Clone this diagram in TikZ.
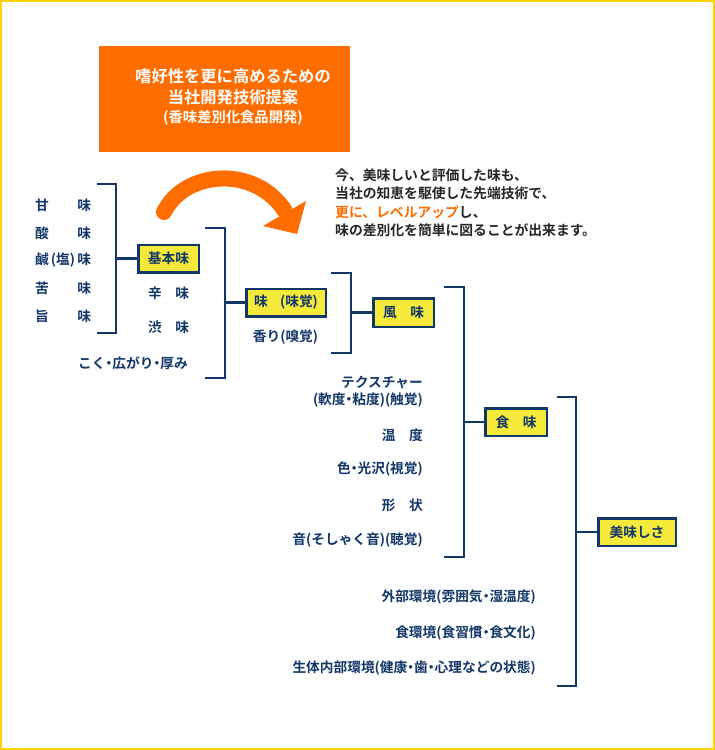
\documentclass[tikz,border=0pt]{standalone}
\usepackage{fontspec}
\setmainfont{Noto Sans CJK JP}[BoldFont={Noto Sans CJK JP Bold}]
\definecolor{navy}{RGB}{18,55,105}
\definecolor{boxyellow}{RGB}{245,234,58}
\definecolor{orng}{RGB}{255,108,0}
\definecolor{frameyellow}{RGB}{255,212,0}
\newcommand\nkdot{\makebox[0.5em]{・}}
\tikzset{
  lbl/.style={font=\fontsize{13.7}{16}\selectfont\bfseries, text=navy, inner sep=0pt},
  jbox/.style={draw=navy, line width=2.5pt, fill=boxyellow, inner sep=0pt, font=\fontsize{13.7}{16}\selectfont\bfseries, text=navy},
  brk/.style={draw=navy, line width=2.5pt},
  wlbl/.style={text=white, inner sep=0pt},
  intro/.style={font=\fontsize{13.8}{16}\selectfont\bfseries, text=black!85, inner sep=0pt, anchor=west}
}
\begin{document}
\begin{tikzpicture}[x=1pt,y=-1pt]
\useasboundingbox (0,0) rectangle (715,750);
\draw[frameyellow, line width=2pt] (1,1) rectangle (713.5,749);

% orange title box
\node[fill=orng, minimum width=251pt, minimum height=106pt, inner sep=0pt] (title) at (224.5,98.5) {};
\node[wlbl, font=\fontsize{16.3}{18}\selectfont\bfseries] (tl1) at (233,76) {嗜好性を更に高めるための};
\node[wlbl, font=\fontsize{16.3}{18}\selectfont\bfseries] (tl2) at (233,97) {当社開発技術提案};
\node[wlbl, font=\fontsize{14.3}{16}\selectfont\bfseries] (tl3) at (233,118) {(香味差別化食品開発)};

% orange curved arrow
\draw[orng, line width=16pt, line cap=round] (164,212) .. controls (185,170) and (255,165) .. (285,211);
\fill[orng] (263,226) -- (306,201) -- (297,234) -- cycle;

% intro text
\node[intro] (i1) at (335,175) {今、美味しいと評価した味も、};
\node[intro] (i2) at (335,193) {当社の知恵を駆使した先端技術で、};
\node[intro] (i3) at (335,212) {{\color{orng}更に、レベルアップ}し、};
\node[intro] (i4) at (335,230) {味の差別化を簡単に図ることが出来ます。};

% left list
\node[lbl] (amami) at (63,205) {\makebox[56pt]{甘\hfill 味}};
\node[lbl] (sanmi) at (63,233) {\makebox[56pt]{酸\hfill 味}};
\node[lbl] (kanmi) at (63,260) {\makebox[56pt]{鹹\hfill(塩)\hfill 味}};
\node[lbl] (nigami) at (63,288) {\makebox[56pt]{苦\hfill 味}};
\node[lbl] (umami) at (63,316) {\makebox[56pt]{旨\hfill 味}};

% bracket 1
\coordinate (b1t) at (97,184);
\coordinate (b1x) at (116,258.5);
\coordinate (b1b) at (97,333);
\node[jbox, minimum width=60.5pt, minimum height=27.5pt] (kihon) at (168.5,258.5) {基本味};
\draw[brk] (b1t) -| (b1x) |- (b1b);
\draw[brk] (b1x) -- (kihon);

\node[lbl] (karami) at (168.5,293) {\makebox[41pt]{辛\hfill 味}};
\node[lbl] (shibumi) at (168.5,327) {\makebox[41pt]{渋\hfill 味}};
\node[lbl, anchor=east] (koku) at (188,363) {こく\nkdot 広がり\nkdot 厚み};

% bracket 2
\coordinate (b2t) at (205,228);
\coordinate (b2x) at (225,302.5);
\coordinate (b2b) at (205,378);
\node[jbox, minimum width=79.5pt, minimum height=27.5pt] (mikaku) at (286,302.5) {味\hspace{0.9em}(味覚)};
\draw[brk] (b2t) -| (b2x) |- (b2b);
\draw[brk] (b2x) -- (mikaku);
\node[lbl] (kaori) at (285.5,337) {香り(嗅覚)};

% bracket 3
\coordinate (b3t) at (331,273);
\coordinate (b3x) at (351,312.5);
\coordinate (b3b) at (331,353);
\node[jbox, minimum width=60.5pt, minimum height=28.5pt] (fumi) at (403.5,312.5) {\makebox[41pt]{風\hfill 味}};
\draw[brk] (b3t) -| (b3x) |- (b3b);
\draw[brk] (b3x) -- (fumi);

% texture items
\node[lbl, anchor=east] (tex1) at (423,383) {テクスチャー};
\node[lbl, anchor=east] (tex2) at (423,400) {(軟度\nkdot 粘度)(触覚)};
\node[lbl, anchor=east] (ondo) at (423,435) {\makebox[41pt]{温\hfill 度}};
\node[lbl, anchor=east] (iro) at (423,469) {色\nkdot 光沢(視覚)};
\node[lbl, anchor=east] (keijo) at (423,505) {\makebox[41pt]{形\hfill 状}};
\node[lbl, anchor=east] (oto) at (423,540) {音(そしゃく音)(聴覚)};

% bracket 4
\coordinate (b4t) at (444,287);
\coordinate (b4x) at (464,422);
\coordinate (b4b) at (444,557);
\node[jbox, minimum width=61.5pt, minimum height=27.5pt] (shokumi) at (516,422) {\makebox[41pt]{食\hfill 味}};
\draw[brk] (b4t) -| (b4x) |- (b4b);
\draw[brk] (b4x) -- (shokumi);

% environment items
\node[lbl, anchor=east] (env1) at (536,597) {外部環境(雰囲気\nkdot 湿温度)};
\node[lbl, anchor=east] (env2) at (536,633) {食環境(食習慣\nkdot 食文化)};
\node[lbl, anchor=east] (env3) at (536,668) {生体内部環境(健康\nkdot 歯\nkdot 心理などの状態)};

% bracket 5
\coordinate (b5t) at (557,397);
\coordinate (b5x) at (576,532);
\coordinate (b5b) at (557,686);
\node[jbox, minimum width=77.5pt, minimum height=27.5pt] (oishisa) at (637,532) {美味しさ};
\draw[brk] (b5t) -| (b5x) |- (b5b);
\draw[brk] (b5x) -- (oishisa);
\end{tikzpicture}
\end{document}
